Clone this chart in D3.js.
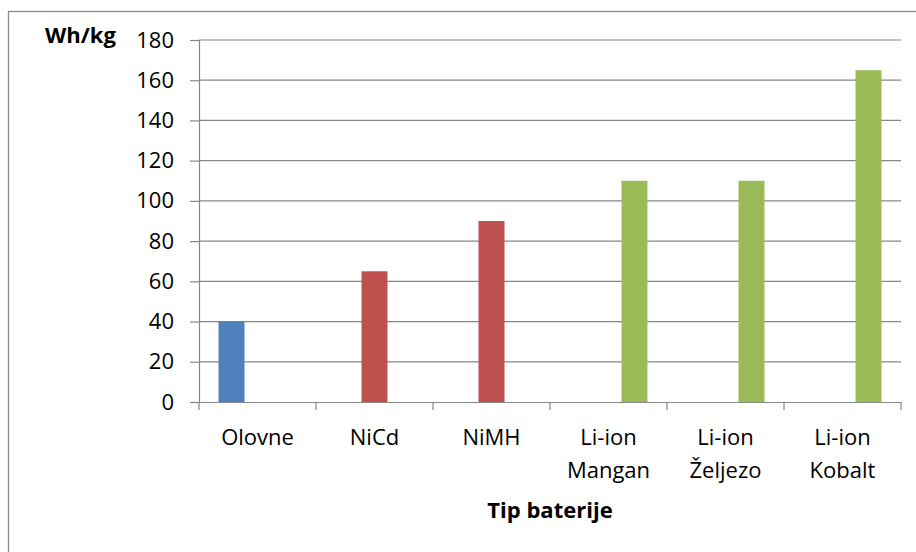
<!DOCTYPE html>
<html>
<head>
<meta charset="utf-8">
<script src="https://cdn.jsdelivr.net/npm/d3@7"></script>
<style>
  body { margin: 0; background: #fff; }
  text { font-family: "Open Sans", sans-serif; fill: #000; }
</style>
</head>
<body>
<svg id="canvas" width="916" height="552"></svg>
<script>
const svg = d3.select("#canvas");

// data
const categories = ["Olovne", "NiCd", "NiMH", "Li-ion\nMangan", "Li-ion\nŽeljezo", "Li-ion\nKobalt"];
const series = ["Olovne", "Ni", "Li-ion"];
const seriesOf = ["Olovne", "Ni", "Ni", "Li-ion", "Li-ion", "Li-ion"];
const values = [40, 65, 90, 110, 110, 165];
const yTicks = [0, 20, 40, 60, 80, 100, 120, 140, 160, 180];

const colors = { "Olovne": "#4F81BD", "Ni": "#C0504D", "Li-ion": "#9BBB59" };
const gridColor = "#878787";
const fontSize = "22px";

const plotLeft = 199, plotRight = 901, plotTop = 40, plotBottom = 402;

// outer chart frame (extends past the picture on the right and bottom)
svg.append("rect")
    .attr("x", 8.5).attr("y", 11.5)
    .attr("width", 930).attr("height", 600)
    .attr("fill", "none")
    .attr("stroke", "#8c8c8c")
    .attr("stroke-width", 1.3);

const x = d3.scaleBand().domain(categories).range([plotLeft, plotRight]).padding(0);
const xs = d3.scaleBand().domain(series).range([0, x.bandwidth()])
    .paddingInner(0).paddingOuter(0.75);
const y = d3.scaleLinear().domain([0, 180]).range([plotBottom, plotTop]);

// gridlines
svg.append("g")
    .selectAll("line")
    .data(yTicks.filter(d => d > 0))
    .enter().append("line")
    .attr("x1", plotLeft).attr("x2", plotRight)
    .attr("y1", d => y(d)).attr("y2", d => y(d))
    .attr("stroke", gridColor)
    .attr("stroke-width", 1.2);

// bars
svg.append("g")
    .selectAll("rect")
    .data(values)
    .enter().append("rect")
    .attr("x", (d, i) => x(categories[i]) + xs(seriesOf[i]))
    .attr("y", d => y(d))
    .attr("width", xs.bandwidth())
    .attr("height", d => plotBottom - y(d))
    .attr("fill", (d, i) => colors[seriesOf[i]]);

// y axis
const yAxis = svg.append("g")
    .attr("transform", `translate(${plotLeft},0)`)
    .call(d3.axisLeft(y).tickValues(yTicks).tickSize(9).tickPadding(16));
yAxis.select(".domain").attr("stroke", gridColor).attr("stroke-width", 1.2);
yAxis.selectAll(".tick line").attr("stroke", gridColor).attr("stroke-width", 1.2);
yAxis.selectAll(".tick text")
    .attr("font-size", fontSize)
    .attr("font-family", "Open Sans")
    .attr("fill", "#000");

// x axis
const xAxis = svg.append("g")
    .attr("transform", `translate(0,${plotBottom})`)
    .call(d3.axisBottom(x).tickSize(0).tickFormat(""));
xAxis.select(".domain").attr("stroke", gridColor).attr("stroke-width", 1.2);

const boundaries = categories.map(c => x(c)).concat([plotRight]);
xAxis.selectAll("line.sep")
    .data(boundaries)
    .enter().append("line")
    .attr("class", "sep")
    .attr("x1", d => d).attr("x2", d => d)
    .attr("y1", 0).attr("y2", 8)
    .attr("stroke", gridColor)
    .attr("stroke-width", 1.2);

const labels = svg.append("g")
    .selectAll("text")
    .data(categories)
    .enter().append("text")
    .attr("x", d => x(d) + x.bandwidth() / 2)
    .attr("y", 445)
    .attr("text-anchor", "middle")
    .attr("font-size", fontSize);
labels.each(function(d) {
    const t = d3.select(this);
    d.split("\n").forEach((line, i) => {
        t.append("tspan")
            .attr("x", t.attr("x"))
            .attr("dy", i === 0 ? 0 : 33)
            .text(line);
    });
});

// axis titles
svg.append("text")
    .attr("x", 45)
    .attr("y", 43)
    .attr("font-size", fontSize)
    .attr("font-weight", "bold")
    .text("Wh/kg");

svg.append("text")
    .attr("x", (plotLeft + plotRight) / 2)
    .attr("y", 518)
    .attr("text-anchor", "middle")
    .attr("font-size", fontSize)
    .attr("font-weight", "bold")
    .text("Tip baterije");
</script>
</body>
</html>
